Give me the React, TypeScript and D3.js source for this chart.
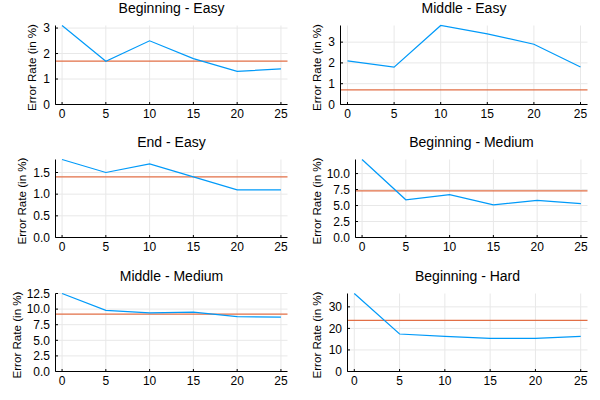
import { useEffect, useRef } from "react";
import * as d3 from "d3";

// session numbers on the x axis
const sessions = [0, 5, 10, 15, 20, 25];

const titles = [
  "Beginning - Easy",
  "Middle - Easy",
  "End - Easy",
  "Beginning - Medium",
  "Middle - Medium",
  "Beginning - Hard",
];

// error rate per session (in %)
const beginningEasy = [3.1, 1.7, 2.5, 1.8, 1.3, 1.4];
const middleEasy = [2.1, 1.8, 3.8, 3.4, 2.9, 1.8];
const endEasy = [1.8, 1.5, 1.7, 1.4, 1.1, 1.1];
const beginningMedium = [12.2, 5.9, 6.7, 5.1, 5.8, 5.3];
const middleMedium = [12.5, 9.8, 9.4, 9.5, 8.8, 8.7];
const beginningHard = [36.2, 17.4, 16.3, 15.4, 15.4, 16.3];

// horizontal reference line per panel
const referenceRates = [1.7, 0.7, 1.4, 7.3, 9.2, 23.7];

const yTickValues = [
  [0, 1, 2, 3],
  [0, 1, 2, 3],
  [0, 0.5, 1, 1.5],
  [0, 2.5, 5, 7.5, 10],
  [0, 2.5, 5, 7.5, 10, 12.5],
  [0, 10, 20, 30],
];
const yTickDecimals = [0, 0, 1, 1, 1, 0];

const series = [beginningEasy, middleEasy, endEasy, beginningMedium, middleMedium, beginningHard];

// layout (pixels)
const plotLeft = [55.5, 340.5, 55.5, 355.5, 55.5, 347.5];
const plotRight = [287.5, 587.5];
const plotTop = [25.5, 159.5, 293.5];
const plotBottom = [104.5, 237.5, 371.5];
const yLabelX = [35.5, 321, 26, 321, 21, 321];

const FONT = "'Liberation Sans', Arial, Helvetica, sans-serif";
const BLUE = "#009af9";
const ORANGE = "#e26f46";
const GRID = "#e8e8e8";

const Panel = ({ idx }: { idx: number }) => {
  const gRef = useRef<SVGGElement | null>(null);

  useEffect(() => {
    if (!gRef.current) return;
    const g = d3.select(gRef.current);
    g.selectAll("*").remove();

    const row = Math.floor(idx / 2);
    const col = idx % 2;
    const left = plotLeft[idx];
    const right = plotRight[col];
    const top = plotTop[row];
    const bottom = plotBottom[row];
    const values = series[idx];

    const x = d3.scaleLinear().domain([-0.75, 25.75]).range([left, right]);
    const y = d3
      .scaleLinear()
      .domain([0, d3.max(values) || 1])
      .range([bottom, top]);

    // grid
    g.selectAll(".vgrid")
      .data(sessions)
      .join("line")
      .attr("x1", d => x(d))
      .attr("x2", d => x(d))
      .attr("y1", top)
      .attr("y2", bottom)
      .attr("stroke", GRID)
      .attr("stroke-width", 1);
    g.selectAll(".hgrid")
      .data(yTickValues[idx])
      .join("line")
      .attr("x1", left)
      .attr("x2", right)
      .attr("y1", d => y(d))
      .attr("y2", d => y(d))
      .attr("stroke", GRID)
      .attr("stroke-width", 1);

    // reference line
    g.append("line")
      .attr("x1", left)
      .attr("x2", right)
      .attr("y1", y(referenceRates[idx]))
      .attr("y2", y(referenceRates[idx]))
      .attr("stroke", ORANGE)
      .attr("stroke-width", 1.2);

    // series line
    const line = d3
      .line<number>()
      .x((_, i) => x(sessions[i]))
      .y(d => y(d));
    g.append("path")
      .datum(values)
      .attr("d", line)
      .attr("fill", "none")
      .attr("stroke", BLUE)
      .attr("stroke-width", 1.2);

    // axes
    g.append("line")
      .attr("x1", left)
      .attr("x2", left)
      .attr("y1", top)
      .attr("y2", bottom)
      .attr("stroke", "#000");
    g.append("line")
      .attr("x1", left)
      .attr("x2", right)
      .attr("y1", bottom)
      .attr("y2", bottom)
      .attr("stroke", "#000");

    // tick marks
    g.selectAll(".xtick")
      .data(sessions)
      .join("line")
      .attr("x1", d => x(d))
      .attr("x2", d => x(d))
      .attr("y1", bottom)
      .attr("y2", bottom - 2.5)
      .attr("stroke", "#000");
    g.selectAll(".ytick")
      .data(yTickValues[idx])
      .join("line")
      .attr("x1", left)
      .attr("x2", left + 2.5)
      .attr("y1", d => y(d))
      .attr("y2", d => y(d))
      .attr("stroke", "#000");

    // tick labels
    g.selectAll(".xlabel")
      .data(sessions)
      .join("text")
      .attr("x", d => x(d))
      .attr("y", bottom + 13)
      .attr("text-anchor", "middle")
      .attr("font-family", FONT)
      .attr("font-size", 12)
      .attr("fill", "#000")
      .text(d => String(d));
    g.selectAll(".ylabel")
      .data(yTickValues[idx])
      .join("text")
      .attr("x", left - 5.5)
      .attr("y", d => y(d) + 4.3)
      .attr("text-anchor", "end")
      .attr("font-family", FONT)
      .attr("font-size", 12)
      .attr("fill", "#000")
      .text(d => d.toFixed(yTickDecimals[idx]));

    // axis title
    const cy = (top + bottom) / 2 + 2.5;
    g.append("text")
      .attr("transform", `translate(${yLabelX[idx]},${cy}) rotate(-90)`)
      .attr("text-anchor", "middle")
      .attr("font-family", FONT)
      .attr("font-size", 11.6)
      .attr("fill", "#000")
      .text("Error Rate (in %)");

    // panel title
    g.append("text")
      .attr("x", (left + right) / 2)
      .attr("y", top - 12.5)
      .attr("text-anchor", "middle")
      .attr("font-family", FONT)
      .attr("font-size", 14)
      .attr("fill", "#000")
      .text(titles[idx]);
  }, [idx]);

  return <g ref={gRef} />;
};

export default function App() {
  return (
    <svg
      width={600}
      height={400}
      style={{ position: "absolute", left: 0, top: 0, background: "#fff" }}
    >
      <rect width={600} height={400} fill="#fff" />
      {titles.map((_, i) => (
        <Panel key={i} idx={i} />
      ))}
    </svg>
  );
}
